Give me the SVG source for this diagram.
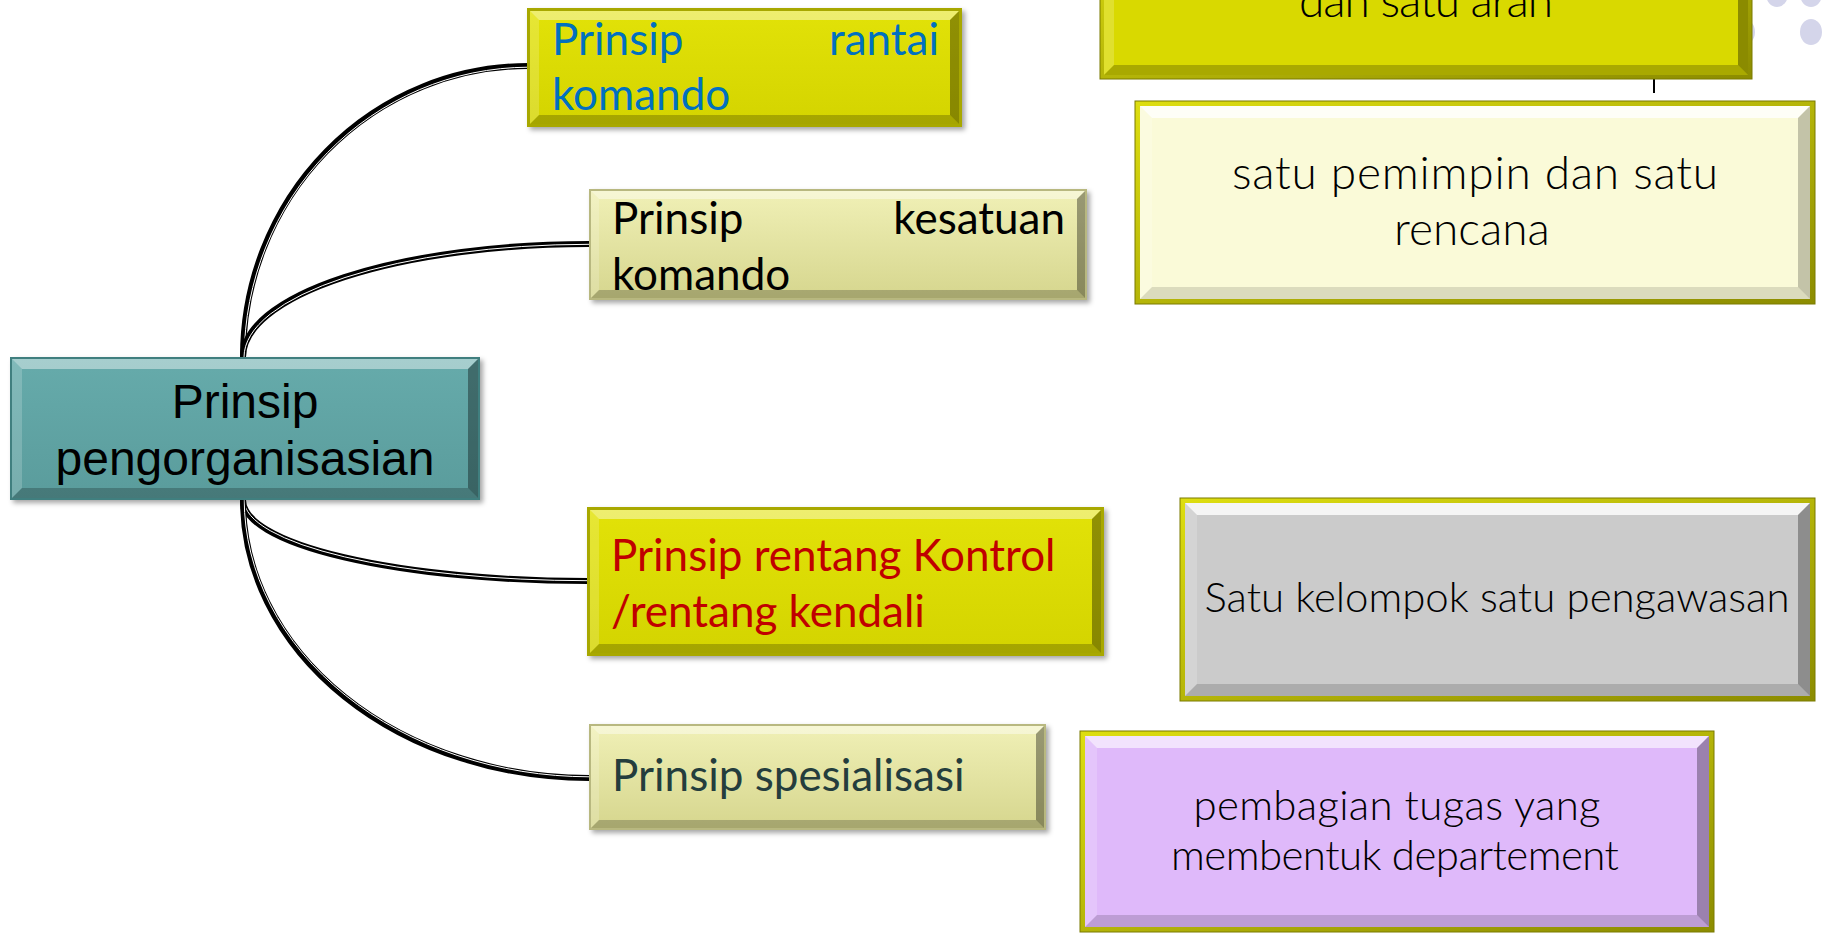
<svg xmlns="http://www.w3.org/2000/svg" width="1825" height="936" viewBox="0 0 1825 936">
<defs>
<filter id="sh" x="-5%" y="-10%" width="112%" height="130%"><feDropShadow dx="3" dy="3" stdDeviation="2.5" flood-color="#000" flood-opacity="0.35"/></filter>
<linearGradient id="khaki" x1="0" y1="0" x2="0" y2="1"><stop offset="0" stop-color="#f0f0b6"/><stop offset="1" stop-color="#d6d68e"/></linearGradient>
<linearGradient id="yel" x1="0" y1="0" x2="0" y2="1"><stop offset="0" stop-color="#e2e208"/><stop offset="1" stop-color="#d4d400"/></linearGradient>
<linearGradient id="frame" x1="0" y1="0" x2="1" y2="1"><stop offset="0" stop-color="#dede10"/><stop offset="1" stop-color="#8c8c00"/></linearGradient>
<linearGradient id="teal" x1="0" y1="0" x2="0" y2="1"><stop offset="0" stop-color="#66abab"/><stop offset="1" stop-color="#5a9c9c"/></linearGradient>
</defs>
<style>
.tl{fill:#fff;opacity:.42}
.lf{fill:#fff;opacity:.18}
.bt{fill:#000;opacity:.22}
.rt{fill:#000;opacity:.36}
.cal{font-family:Lato,"Open Sans","Noto Sans",sans-serif;font-size:44px}
.hand{font-family:Lato,"Open Sans",sans-serif;font-weight:300;text-anchor:middle;fill:#000}
.cn{fill:none;stroke:#000;stroke-width:6}
.cw{fill:none;stroke:#fff;stroke-width:1}
.dot{fill:#d4d5ea}
</style>
<rect width="1825" height="936" fill="#fff"/>

<g id="decor">
<ellipse class="dot" cx="1777" cy="-6" rx="11" ry="13"/>
<ellipse class="dot" cx="1811" cy="-6" rx="11" ry="13"/>
<ellipse class="dot" cx="1744" cy="32" rx="11" ry="13"/>
<ellipse class="dot" cx="1811" cy="32" rx="11" ry="13"/>
<line x1="1654" y1="79" x2="1654" y2="93" stroke="#000" stroke-width="2"/>
</g>

<g id="connectors">
<path class="cn" d="M243,357 A285,291 0 0 1 528,66"/>
<path class="cw" transform="translate(1.2,1.2)" d="M243,357 A285,291 0 0 1 527,66"/>
<path class="cn" d="M243,357 A346,113 0 0 1 589,244"/>
<path class="cw" transform="translate(1,1.3)" d="M243,356 A346,113 0 0 1 588,243"/>
<path class="cn" d="M243,500 A345,81 0 0 0 588,581"/>
<path class="cw" transform="translate(1,-1.3)" d="M243,501 A345,81 0 0 0 587,582"/>
<path class="cn" d="M243,500 A346,278 0 0 0 589,778"/>
<path class="cw" transform="translate(1.2,-1.2)" d="M243,500 A346,278 0 0 0 588,778"/>
</g>

<g id="node-center">
<rect x="10" y="357" width="470" height="143" fill="#3f7f7f" filter="url(#sh)"/>
<rect x="12" y="359" width="466" height="139" fill="url(#teal)"/>
<polygon class="tl" points="12,359 478,359 468,369 22,369"/>
<polygon class="lf" points="12,359 22,369 22,488 12,498"/>
<polygon class="bt" points="12,498 478,498 468,488 22,488"/>
<polygon class="rt" points="478,359 468,369 468,488 478,498"/>
<text font-family="'Liberation Sans',Arial,sans-serif" font-size="48" text-anchor="middle" fill="#000"><tspan x="245" y="418">Prinsip</tspan><tspan x="245" y="475">pengorganisasian</tspan></text>
</g>

<g id="node-rantai">
<rect x="527" y="8" width="435" height="119" fill="#a8a800" filter="url(#sh)"/>
<rect x="530" y="11" width="429" height="113" fill="url(#yel)"/>
<polygon class="tl" points="530,11 959,11 950,20 539,20"/>
<polygon class="lf" points="530,11 539,20 539,115 530,124"/>
<polygon class="bt" points="530,124 959,124 950,115 539,115"/>
<polygon class="rt" points="959,11 950,20 950,115 959,124"/>
<text class="cal" fill="#0070c0"><tspan x="552" y="55">Prinsip</tspan><tspan x="939" y="55" text-anchor="end">rantai</tspan><tspan x="552" y="110">komando</tspan></text>
</g>

<g id="node-kesatuan">
<rect x="589" y="189" width="498" height="111" fill="#b8b880" filter="url(#sh)"/>
<rect x="591" y="191" width="494" height="107" fill="url(#khaki)"/>
<polygon class="tl" points="591,191 1085,191 1077,199 599,199"/>
<polygon class="lf" points="591,191 599,199 599,290 591,298"/>
<polygon class="bt" points="591,298 1085,298 1077,290 599,290"/>
<polygon class="rt" points="1085,191 1077,199 1077,290 1085,298"/>
<text class="cal" fill="#000"><tspan x="612" y="234">Prinsip</tspan><tspan x="1065" y="234" text-anchor="end">kesatuan</tspan><tspan x="612" y="290">komando</tspan></text>
</g>

<g id="node-rentang">
<rect x="587" y="507" width="517" height="149" fill="#a8a800" filter="url(#sh)"/>
<rect x="590" y="510" width="511" height="143" fill="url(#yel)"/>
<polygon class="tl" points="590,510 1101,510 1092,519 599,519"/>
<polygon class="lf" points="590,510 599,519 599,644 590,653"/>
<polygon class="bt" points="590,653 1101,653 1092,644 599,644"/>
<polygon class="rt" points="1101,510 1092,519 1092,644 1101,653"/>
<text class="cal" fill="#c00000"><tspan x="611" y="571">Prinsip rentang Kontrol</tspan><tspan x="611" y="627">/rentang kendali</tspan></text>
</g>

<g id="node-spesialisasi">
<rect x="589" y="724" width="457" height="106" fill="#b8b880" filter="url(#sh)"/>
<rect x="591" y="726" width="453" height="102" fill="url(#khaki)"/>
<polygon class="tl" points="591,726 1044,726 1036,734 599,734"/>
<polygon class="lf" points="591,726 599,734 599,820 591,828"/>
<polygon class="bt" points="591,828 1044,828 1036,820 599,820"/>
<polygon class="rt" points="1044,726 1036,734 1036,820 1044,828"/>
<text class="cal" fill="#243d3d" x="612" y="791">Prinsip spesialisasi</text>
</g>

<g id="node-arah">
<rect x="1100" y="-80" width="652" height="159" fill="url(#frame)" stroke="#7a7a00" stroke-width="1"/>
<rect x="1104" y="-76" width="644" height="151" fill="#d9d900"/>
<polygon class="lf" points="1104,-76 1114,-66 1114,65 1104,75"/>
<polygon class="bt" points="1104,75 1748,75 1738,65 1114,65"/>
<polygon class="rt" points="1748,-76 1738,-66 1738,65 1748,75"/>
<text class="hand" font-size="46" x="1426" y="17" textLength="254" lengthAdjust="spacing">dan satu arah</text>
</g>

<g id="node-pemimpin">
<rect x="1135" y="101" width="680" height="203" fill="url(#frame)" stroke="#7a7a00" stroke-width="1"/>
<rect x="1140" y="106" width="670" height="193" fill="#fafad8"/>
<polygon class="tl" points="1140,106 1810,106 1798,118 1152,118" style="opacity:.8"/>
<polygon class="lf" points="1140,106 1152,118 1152,287 1140,299"/>
<polygon class="bt" points="1140,299 1810,299 1798,287 1152,287" style="opacity:.12"/>
<polygon class="rt" points="1810,106 1798,118 1798,287 1810,299" style="opacity:.22"/>
<text class="hand" font-size="46"><tspan x="1475" y="189" textLength="486" lengthAdjust="spacing">satu pemimpin dan satu</tspan><tspan x="1472" y="245">rencana</tspan></text>
</g>

<g id="node-kelompok">
<rect x="1180" y="498" width="635" height="203" fill="url(#frame)" stroke="#7a7a00" stroke-width="1"/>
<rect x="1185" y="503" width="625" height="193" fill="#cbcbcb"/>
<polygon class="tl" points="1185,503 1810,503 1798,515 1197,515" style="opacity:.8"/>
<polygon class="lf" points="1185,503 1197,515 1197,684 1185,696"/>
<polygon class="bt" points="1185,696 1810,696 1798,684 1197,684" style="opacity:.15"/>
<polygon class="rt" points="1810,503 1798,515 1798,684 1810,696" style="opacity:.3"/>
<text class="hand" font-size="42" x="1497" y="612" textLength="585" lengthAdjust="spacing">Satu kelompok satu pengawasan</text>
</g>

<g id="node-pembagian">
<rect x="1080" y="731" width="634" height="201" fill="url(#frame)" stroke="#7a7a00" stroke-width="1"/>
<rect x="1085" y="736" width="624" height="191" fill="#dfb9fa"/>
<polygon class="tl" points="1085,736 1709,736 1697,748 1097,748" style="opacity:.6"/>
<polygon class="lf" points="1085,736 1097,748 1097,915 1085,927"/>
<polygon class="bt" points="1085,927 1709,927 1697,915 1097,915" style="opacity:.15"/>
<polygon class="rt" points="1709,736 1697,748 1697,915 1709,927" style="opacity:.3"/>
<text class="hand" font-size="42"><tspan x="1397" y="820" textLength="407" lengthAdjust="spacing">pembagian tugas yang</tspan><tspan x="1395" y="870" textLength="448" lengthAdjust="spacing">membentuk departement</tspan></text>
</g>
</svg>
